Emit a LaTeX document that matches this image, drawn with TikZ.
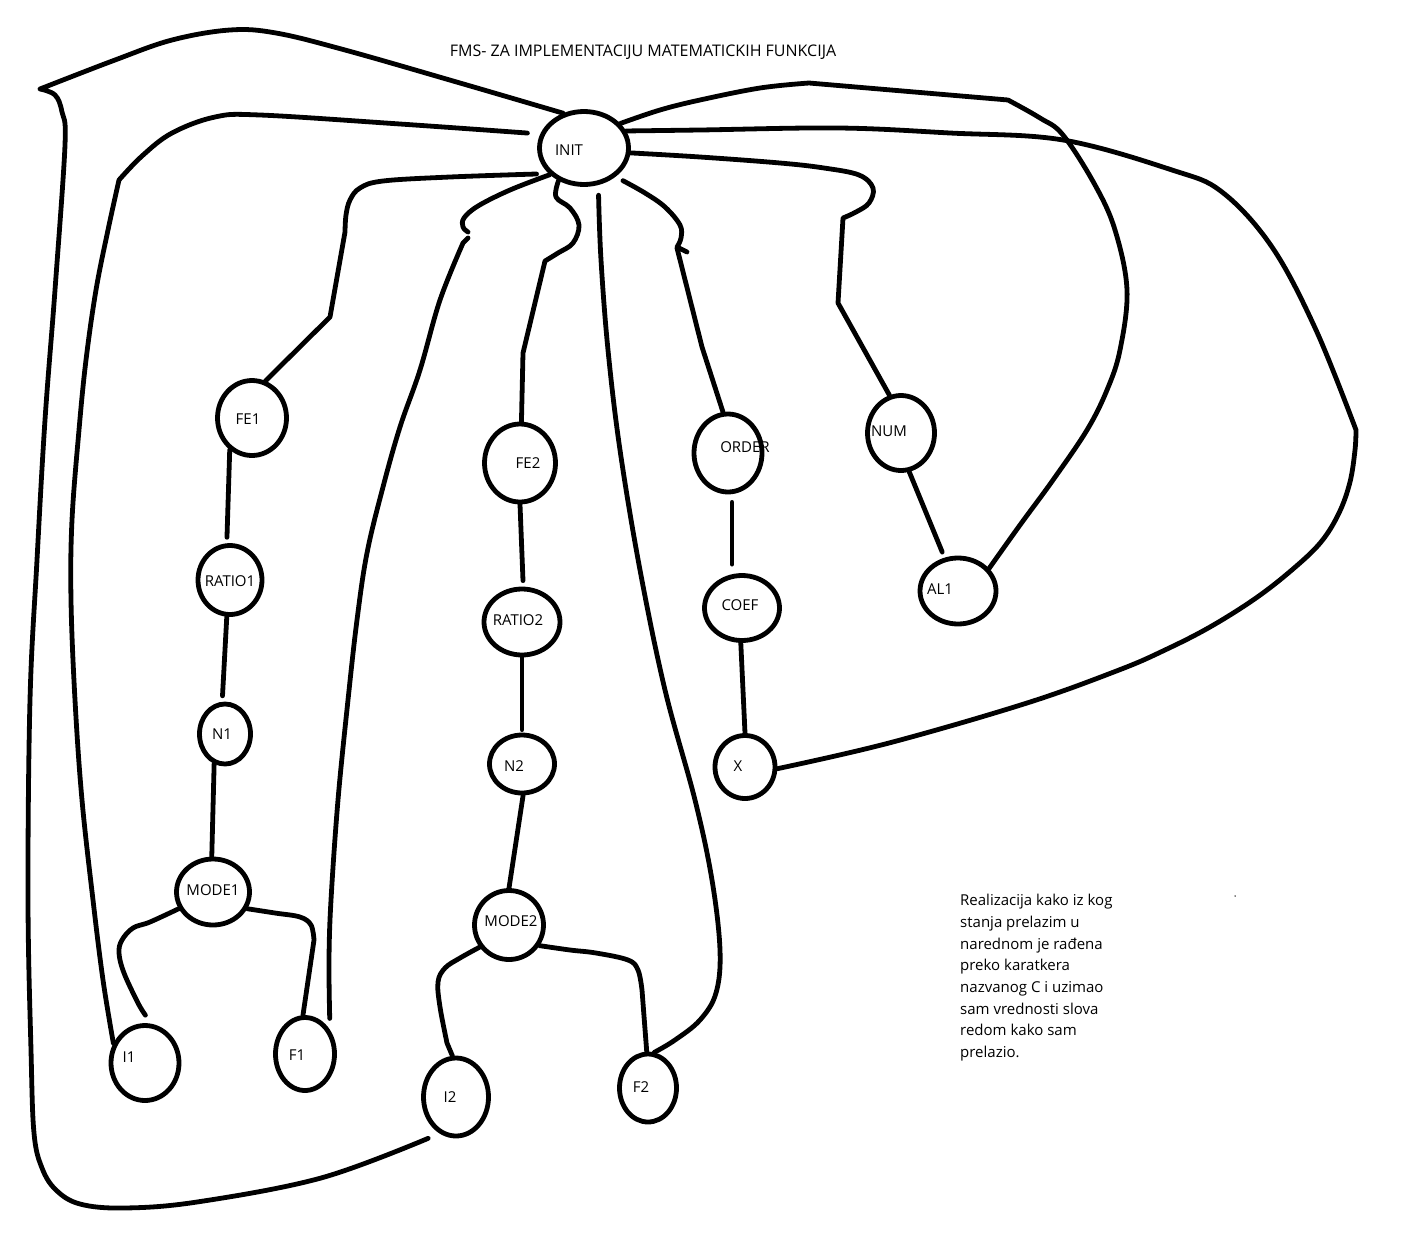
\documentclass[tikz,border=0pt]{standalone}
\usepackage{fontspec}
\setmainfont{Open Sans}
\usetikzlibrary{shapes.geometric,calc}
\begin{document}
\begin{tikzpicture}[x=1pt,y=-1pt,
  st/.style={ellipse,draw,line width=4.8pt,inner sep=0pt},
  lbl/.style={inner sep=0pt,font=\fontsize{15}{18}\selectfont},
  wire/.style={line width=4.8pt,line cap=round,line join=round},
  sm/.style={smooth,tension=0.6}]
\useasboundingbox (0,0) rectangle (1406,1232);
\fill[white] (0,0) rectangle (1406,1232);

% states
\node[st,minimum width=89,minimum height=73] (init) at (584,148) {};
\node[st,minimum width=69,minimum height=75] (fe1) at (252,418) {};
\node[st,minimum width=64,minimum height=69] (ratio1) at (230,580) {};
\node[st,minimum width=51,minimum height=60] (n1) at (225,734) {};
\node[st,minimum width=73,minimum height=66] (mode1) at (213,892) {};
\node[st,minimum width=68,minimum height=75] (i1) at (145,1063) {};
\node[st,minimum width=59,minimum height=73] (f1) at (305,1054) {};
\node[st,minimum width=71,minimum height=78] (fe2) at (520,463) {};
\node[st,minimum width=76,minimum height=66] (ratio2) at (522,622) {};
\node[st,minimum width=65,minimum height=58] (n2) at (522,764) {};
\node[st,minimum width=69,minimum height=69] (mode2) at (509,925) {};
\node[st,minimum width=65,minimum height=78] (i2) at (456,1097) {};
\node[st,minimum width=57,minimum height=68] (f2) at (648,1088) {};
\node[st,minimum width=68,minimum height=78] (order) at (728,453) {};
\node[st,minimum width=75,minimum height=65] (coef) at (742,608) {};
\node[st,minimum width=60,minimum height=63] (xx) at (745,767) {};
\node[st,minimum width=67,minimum height=75] (num) at (901,433) {};
\node[st,minimum width=76,minimum height=66] (al1) at (958,591) {};

% labels
\node[lbl] (t-init) at (569,150) {INIT};
\node[lbl] (t-fe1) at (248,419) {FE1};
\node[lbl] (t-ratio1) at (230,581) {RATIO1};
\node[lbl] (t-n1) at (222,734) {N1};
\node[lbl] (t-mode1) at (213,890) {MODE1};
\node[lbl] (t-i1) at (129,1057) {I1};
\node[lbl] (t-f1) at (297,1055) {F1};
\node[lbl] (t-fe2) at (528,463) {FE2};
\node[lbl] (t-ratio2) at (518,620) {RATIO2};
\node[lbl] (t-n2) at (514,766) {N2};
\node[lbl] (t-mode2) at (511,921) {MODE2};
\node[lbl] (t-i2) at (450,1097) {I2};
\node[lbl] (t-f2) at (641,1087) {F2};
\node[lbl] (t-order) at (745,447) {ORDER};
\node[lbl] (t-coef) at (740,605) {COEF};
\node[lbl] (t-x) at (738,766) {X};
\node[lbl] (t-num) at (889,431) {NUM};
\node[lbl] (t-al1) at (940,589) {AL1};

\node[inner sep=0pt,font=\fontsize{16}{18}\selectfont] (title) at (643,52)
  {FMS- ZA IMPLEMENTACIJU MATEMATICKIH FUNKCIJA};
\node[inner sep=0pt,anchor=north west,align=left,font=\fontsize{15}{21.7}\selectfont] (note) at (960,894)
  {Realizacija kako iz kog\\stanja prelazim u\\narednom je rađena\\preko karatkera\\nazvanog C i uzimao\\sam vrednosti slova\\redom kako sam\\prelazio.};
\node[circle,fill,inner sep=0pt,minimum size=1.5pt] (dot) at (1235,896) {};

% free ends
\coordinate (h1) at (468,232);
\coordinate (h2) at (468,238);

% 1: outer loop INIT -> I2
\draw[wire] plot[sm] coordinates {(init.121) (460,83) (345,50) (276,33) (230,30) (172,40) (115,60) (40,89)}
  plot[sm] coordinates {(40,89) (55,95) (62,112) (65,145) (55,290) (45,420) (37,560) (30,700) (28,900) (31,1050) (34,1133) (42,1168) (56,1190) (80,1204) (124,1208) (197,1202) (321,1178) ($(i2.236)+(-6,9)$)};
% 2: INIT -> I1
\draw[wire] plot[sm] coordinates {($(init.165)+(-12,-3)$) (400,124) (260,115) (215,117) (172,133) (142,156) (119,180)}
  plot[sm] coordinates {(119,180) (108,230) (96,290) (86,360) (79,430) (72,520) (71,600) (75,700) (82,800) (93,900) (103,980) (i1.148)};
% 3: INIT -> FE1
\draw[wire] plot[sm] coordinates {($(init.208)+(-8,5)$) (450,177) (383,181) (360,188) (350,200) (346,215) (345,232)}
  -- (330,317) -- (fe1.70);
% 4: INIT -> hook, hook -> F1
\draw[wire] plot[sm] coordinates {(init.218) (510,190) (478,206) (464,218) (463,227) (h1)};
\draw[wire] (h2) -- (463,243) plot[sm] coordinates {(463,243) (440,300) (420,370) (400,427) (383,487) (367,553) (357,620) (348,700) (338,800) (331,900) (329,960) ($(f1.55)+(4,-6)$)};
% 5: INIT -> FE2
\draw[wire] plot[sm] coordinates {(init.232) (556,197) (570,208) (579,225) (573,243) (558,253) (545,261)}
  -- (523,353) -- (fe2.88);
% 6: INIT -> F2
\draw[wire] plot[sm] coordinates {($(init.290)+(1,10)$) (601,260) (608,350) (620,450) (640,570) (665,690) (695,800) (712,880) (720,950) (716,993) (700,1020) (675,1040) (f2.80)};
% 7: INIT -> ORDER
\draw[wire] plot[sm] coordinates {($(init.320)+(6,5)$) (645,193) (665,207) (680,225) (681,238) (677,247)}
  -- (687,252) (677,248) -- (702,347) -- (order.97);
% 8: INIT -> NUM
\draw[wire] plot[sm] coordinates {(init.354) (700,157) (780,163) (824,168) (859,175) (873,188) (869,203) (856,212) (843,218)}
  -- (838,303) -- (num.107);
% 9: INIT -> AL1
\draw[wire] plot[sm] coordinates {(init.34) (660,110) (700,100) (760,88) (809,83)} -- (1008,100)
  plot[sm] coordinates {(1008,100) (1040,118) (1063,135) (1095,185) (1115,230) (1127,290) (1120,350) (1107,390) (1087,430) (1053,480) (1020,525) (al1.36)};
% 10: INIT -> X
\draw[wire] plot[sm] coordinates {(init.22) (700,130) (839,128) (950,133) (1063,140) (1172,170) (1222,192) (1272,247) (1316,330) (1356,430)}
  plot[sm] coordinates {(1356,430) (1355,450) (1350,482) (1339,513) (1321,542) (1293,569) (1256,598) (1210,627) (1165,650) (1119,670) (1027,703) (889,743) (xx.357)};
% chains
\draw[wire,shorten >=6pt] (fe1.235) -- (ratio1.95);
\draw[wire,shorten >=6pt] (ratio1.265) -- (n1.95);
\draw[wire] (n1.250) -- (mode1.92);
\draw[wire] plot[sm] coordinates {(mode1.206) (150,922) (133,928) (122,940) (119,953) (124,973) (138,1003) ($(i1.88)+(-1,-8)$)};
\draw[wire] plot[sm] coordinates {(mode1.334) (275,913) (300,917) (311,925) (314,940)} -- (f1.93);
\draw[wire,shorten >=6pt] (fe2.270) -- (ratio2.88);
\draw[wire,shorten >=3pt] (ratio2.270) -- (n2.90);
\draw[wire] (n2.272) -- (mode2.90);
\draw[wire] plot[sm] coordinates {(mode2.217) (460,958) (445,968) (438,982) (440,1007) (447,1043)} -- (i2.95);
\draw[wire] plot[sm] coordinates {(mode2.326) (570,950) (596,953) (628,960) (638,970) (642,990)} -- (f2.92);
\draw[wire] ($(order.south)+(4,8)$) -- ($(coef.north)+(-10,-9)$);
\draw[wire] (coef.268) -- (xx.90);
\draw[wire,shorten >=6pt] (num.282) -- (al1.112);
\end{tikzpicture}
\end{document}
